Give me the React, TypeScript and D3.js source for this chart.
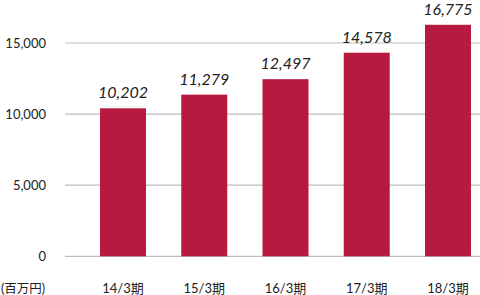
import React from "react";
import * as d3 from "d3";

const categories = ["14/3期", "15/3期", "16/3期", "17/3期", "18/3期"];
const values = [10202, 11279, 12497, 14578, 16775];
const yTicks = [0, 5000, 10000, 15000];
const unitLabel = "(百万円)";

const W = 480;
const H = 295;

export default function App() {
  const x = d3.scaleBand<string>().domain(categories).range([82.4, 488.6]).paddingInner(0.434).paddingOuter(0.217);
  // axis scale for gridlines
  const y = d3.scaleLinear().domain([0, 5000]).range([256.3, 185.2]);
  // bar scale as drawn in the original (bars offset from gridline scale)
  const yBar = d3.scaleLinear().domain([-1445, 16775]).range([256.3, 24.8]);
  const fmt = d3.format(",");
  const font = "'Lato', 'Noto Sans CJK JP', sans-serif";
  return (
    <svg width={W} height={H} style={{ position: "absolute", left: 0, top: 0, display: "block" }} fontFamily={font}>
      {yTicks.map((t) => (
        <g key={t}>
          <line x1={65} x2={480} y1={y(t)} y2={y(t)} stroke="#bdbdbd" strokeWidth={1.2} />
          <text x={46} y={y(t)} dy="0.36em" textAnchor="end" fontSize={13} fill="#222">
            {fmt(t)}
          </text>
        </g>
      ))}
      {categories.map((c, i) => (
        <g key={c}>
          <rect x={x(c)} y={yBar(values[i])} width={x.bandwidth()} height={yBar(-1445) - yBar(values[i])} fill="#b71a3e" />
          <text
            x={(x(c) as number) + x.bandwidth() / 2}
            y={yBar(values[i]) - 10}
            textAnchor="middle"
            fontSize={16}
            fontStyle="italic"
            fill="#222"
          >
            {fmt(values[i])}
          </text>
          <text x={(x(c) as number) + x.bandwidth() / 2} y={293} textAnchor="middle" fontSize={13} fill="#222">
            {c}
          </text>
        </g>
      ))}
      <text x={1} y={293} fontSize={12.5} fill="#222">
        {unitLabel}
      </text>
    </svg>
  );
}
